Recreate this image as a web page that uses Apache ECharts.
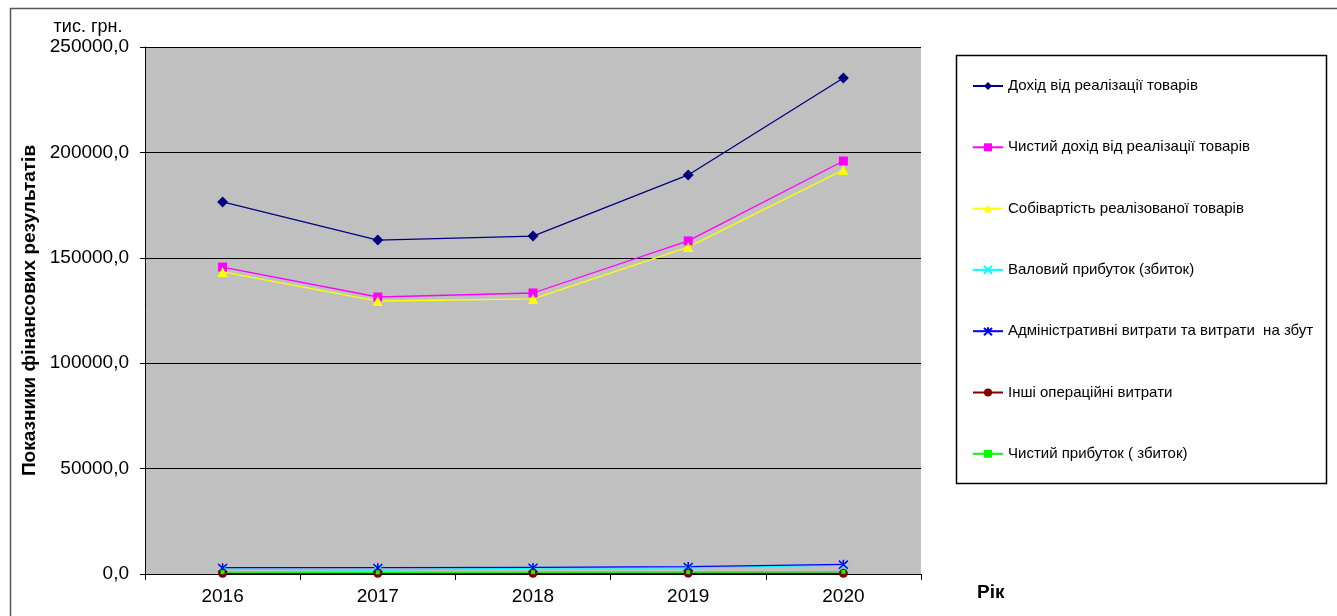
<!DOCTYPE html>
<html>
<head>
<meta charset="utf-8">
<script src="https://cdn.jsdelivr.net/npm/echarts@6/dist/echarts.min.js"></script>
<style>
  html, body { margin: 0; padding: 0; background: #ffffff; }
  #chart { width: 1337px; height: 616px; }
</style>
</head>
<body>
<div id="chart"></div>
<script>
// Years on the horizontal axis
const years = ['2016', '2017', '2018', '2019', '2020'];

// Financial results, thousand UAH
const revenue      = [176500, 158400, 160300, 189300, 235300];
const netRevenue   = [145600, 131400, 133300, 158000, 195900];
const costOfSales  = [143300, 129500, 130500, 155100, 191700];
const grossProfit  = [2300, 1900, 2800, 2900, 4200];
const adminExpense = [3000, 3000, 3100, 3500, 4600];
const otherExpense = [300, 300, 300, 400, 300];
const netProfit    = [900, 800, 900, 900, 1000];

const seriesNames = [
  'Дохід від реалізації товарів',
  'Чистий дохід від реалізації товарів',
  'Собівартість реалізованої товарів',
  'Валовий прибуток (збиток)',
  'Адміністративні витрати та витрати  на збут',
  'Інші операційні витрати',
  'Чистий прибуток ( збиток)'
];

const FONT = '"Liberation Sans", Arial, sans-serif';
const crossPath = 'path://M0,0L10,10M10,0L0,10';
const starPath = 'path://M0,0L10,10M10,0L0,10M5,-1L5,5';

function line(name, data, color, symbol, size, extra) {
  return Object.assign({
    name: name,
    type: 'line',
    data: data,
    symbol: symbol,
    symbolSize: size,
    showSymbol: true,
    lineStyle: { color: color, width: 1.3 },
    itemStyle: { color: color, borderColor: color, borderWidth: 0 },
    emphasis: { disabled: true },
    animation: false
  }, extra || {});
}

const chart = echarts.init(document.getElementById('chart'), null, { renderer: 'canvas' });

chart.setOption({
  backgroundColor: '#ffffff',
  animation: false,
  grid: { left: 145, top: 47, width: 776, height: 527, backgroundColor: '#c0c0c0', show: true, borderWidth: 0 },
  legend: {
    orient: 'vertical',
    left: 967,
    top: 73,
    itemWidth: 30,
    itemHeight: 10,
    itemGap: 45.3,
    textStyle: { fontFamily: FONT, fontSize: 15, lineHeight: 16, color: '#000000' },
    data: seriesNames
  },
  xAxis: {
    type: 'category',
    data: years,
    boundaryGap: true,
    axisLine: { lineStyle: { color: '#000000', width: 1 } },
    axisTick: { show: true, length: 6, lineStyle: { color: '#000000' } },
    axisLabel: { fontFamily: FONT, fontSize: 19, color: '#000000', margin: 13 },
    splitLine: { show: false }
  },
  yAxis: {
    type: 'value',
    min: 0,
    max: 250000,
    interval: 50000,
    name: 'Показники фінансових результатів',
    nameLocation: 'middle',
    nameGap: 103,
    nameRotate: 90,
    nameTextStyle: { fontFamily: FONT, fontSize: 19, fontWeight: 'bold', color: '#000000' },
    axisLine: { show: true, lineStyle: { color: '#000000', width: 1 } },
    axisTick: { show: true, length: 5, lineStyle: { color: '#000000' } },
    axisLabel: {
      fontFamily: FONT, fontSize: 19, color: '#000000', margin: 16,
      formatter: v => v.toFixed(1).replace('.', ',')
    },
    splitLine: { show: true, lineStyle: { color: '#000000', width: 1 } }
  },
  graphic: [
    { type: 'rect', silent: true, z: -1, shape: { x: 10.5, y: 8.5, width: 1340, height: 620 },
      style: { fill: 'none', stroke: '#555555', lineWidth: 1.5 } },
    { type: 'rect', silent: true, shape: { x: 956.5, y: 55.5, width: 370, height: 428 },
      style: { fill: 'none', stroke: '#000000', lineWidth: 1.5 } },
    { type: 'text', x: 88, y: 27, style: { text: 'тис. грн.', font: '18px ' + FONT, fill: '#000000',
      align: 'center', verticalAlign: 'middle' } },
    { type: 'text', x: 977, y: 593, style: { text: 'Рік', font: 'bold 19px ' + FONT, fill: '#000000',
      align: 'left', verticalAlign: 'middle' } }
  ],
  series: [
    line(seriesNames[0], revenue, '#000080', 'diamond', 11),
    line(seriesNames[1], netRevenue, '#ff00ff', 'rect', 9),
    line(seriesNames[2], costOfSales, '#ffff00', 'triangle', 10),
    line(seriesNames[3], grossProfit, '#00ffff', crossPath, 8,
      { itemStyle: { color: '#00ffff', borderColor: '#00ffff', borderWidth: 1.5 } }),
    line(seriesNames[4], adminExpense, '#0000ff', starPath, 9,
      { itemStyle: { color: '#0000ff', borderColor: '#0000ff', borderWidth: 1.5 } }),
    line(seriesNames[5], otherExpense, '#800000', 'circle', 9),
    line(seriesNames[6], netProfit, '#00ff00', 'rect', 4)
  ]
});
</script>
</body>
</html>
